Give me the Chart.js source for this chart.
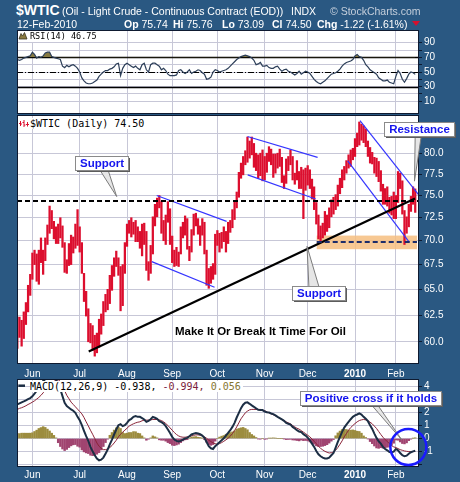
<!DOCTYPE html>
<html>
<head>
<meta charset="utf-8">
<script src="https://cdn.jsdelivr.net/npm/chart.js@4.4.1/dist/chart.umd.min.js"></script>
<style>
  html, body { margin: 0; padding: 0; }
  body { width: 460px; height: 482px; background: #2a5882; position: relative; overflow: hidden;
         font-family: "Liberation Sans", Arial, sans-serif; color: #fff; }
  .t { position: absolute; white-space: nowrap; font-size: 10.5px; line-height: 12px; z-index: 5; }
  .lg { position: absolute; white-space: nowrap; font-family: "DejaVu Sans Mono", "Liberation Mono", monospace;
        font-size: 10px; line-height: 11px; color: #000; background: #fff; padding-right: 2px; z-index: 5; }
  canvas { position: absolute; }
  .tri { position: absolute; left: 412px; top: 21px; width: 0; height: 0; z-index: 5;
         border-left: 4px solid transparent; border-right: 4px solid transparent; border-top: 5px solid #d4102e; }
</style>
</head>
<body>
<div class="t" style="left:16px;top:3px;font-size:14px;line-height:15px;font-weight:bold">$WTIC</div>
<div class="t" style="left:62px;top:4.5px">(Oil - Light Crude - Continuous Contract (EOD))</div>
<div class="t" style="left:291px;top:4.5px">INDX</div>
<div class="t" style="left:330px;top:4.5px;color:#c5cfdc">© StockCharts.com</div>
<div class="t" style="left:17px;top:17.5px">12-Feb-2010</div>
<div class="t" style="left:124px;top:17.5px"><b>Op</b> 75.74</div>
<div class="t" style="left:173px;top:17.5px"><b>Hi</b> 75.76</div>
<div class="t" style="left:222px;top:17.5px"><b>Lo</b> 73.09</div>
<div class="t" style="left:272px;top:17.5px"><b>Cl</b> 74.50</div>
<div class="t" style="left:317px;top:17.5px"><b>Chg</b> -1.22 (-1.61%)</div>
<div class="tri"></div>

<canvas id="rsiChart" width="443" height="84" style="left:17px;top:30px"></canvas>
<canvas id="priceChart" width="443" height="264" style="left:17px;top:115px"></canvas>
<canvas id="macdChart" width="443" height="103" style="left:17px;top:379px"></canvas>

<div class="lg" style="left:30px;top:31px;font-size:8.5px">RSI(14) 46.75</div>
<div class="lg" style="left:30px;top:118px">$WTIC (Daily) 74.50</div>
<div class="lg" style="left:30px;top:380.5px">MACD(12,26,9) -0.938, <span style="color:#7b1d3c">-0.994,</span> <span style="color:#857530">0.056</span></div>

<script>
// ---- sessions: one entry per trading day, 20-May-2009 .. 12-Feb-2010 ----
const monthTicks  = [7, 29, 51, 72, 93, 115, 135, 157, 176];
const monthLabels = ['Jun', 'Jul', 'Aug', 'Sep', 'Oct', 'Nov', 'Dec', '2010', 'Feb'];

const priceTicks = [60, 62.5, 65, 67.5, 70, 72.5, 75, 77.5, 80, 82.5];
const rsiTicks   = [10, 20, 30, 40, 50, 60, 70, 80, 90];
const rsiLabeled = [10, 30, 50, 70, 90];
const macdTicks  = [-2, -1, 0, 1, 2, 3, 4];

// daily high / low
const high = [
  62.3, 62.3, 62.0, 62.8, 63.7, 65.4, 66.5,
  68.7, 69.0, 68.6, 69.0, 70.3, 69.0, 70.3, 71.7, 73.8, 73.3, 72.1, 71.5, 71.8, 72.5, 71.6, 69.8, 68.0, 69.7, 70.6, 70.4, 71.8, 73.4,
  71.5, 69.8, 66.6, 64.8, 63.1, 61.7, 61.5, 60.6, 60.8, 62.1, 62.6, 63.8, 64.5, 65.0, 66.4, 67.4, 68.2, 68.9, 68.2, 67.3, 67.5, 69.8,
  71.8, 72.2, 72.5, 72.0, 72.2, 71.5, 71.0, 71.8, 71.9, 71.0, 67.8, 69.5, 72.6, 74.0, 74.7, 75.0, 74.3, 72.2, 72.8, 74.3, 73.5,
  70.5, 69.0, 69.3, 68.8, 71.5, 72.0, 72.7, 72.4, 69.4, 71.2, 72.9, 73.0, 72.4, 71.6, 72.4, 72.0, 69.0, 67.1, 67.3, 67.6, 70.7,
  71.1, 70.8, 70.9, 71.5, 71.0, 72.0, 72.2, 73.4, 74.3, 75.4, 77.7, 78.8, 79.6, 80.3, 82.0, 81.5, 82.0, 81.2, 80.0, 79.8, 80.0, 80.4,
  79.6, 80.0, 80.8, 80.5, 79.9, 79.9, 80.0, 80.5, 79.5, 77.3, 79.3, 79.6, 80.4, 79.6, 77.6, 79.1, 77.8, 78.3, 78.0, 78.2,
  78.5, 78.0, 76.9, 76.0, 74.2, 72.8, 71.6, 71.9, 73.2, 72.8, 73.6, 74.5, 74.8, 75.1, 76.2, 77.0, 78.0, 78.4, 79.1, 79.8, 80.4, 80.6,
  81.8, 82.5, 83.9, 83.6, 83.4, 83.0, 81.5, 80.7, 80.1, 79.5, 79.4, 79.0, 77.9, 76.3, 75.8, 76.0, 74.8, 74.9, 75.4,
  75.0, 77.8, 77.6, 76.7, 73.3, 72.6, 74.0, 74.9, 76.0, 75.76
];
const low = [
  59.4, 60.4, 59.6, 60.3, 61.6, 62.8, 64.4,
  66.0, 67.5, 65.8, 65.5, 67.7, 66.5, 67.9, 69.6, 70.8, 71.3, 70.2, 69.7, 69.7, 70.3, 69.3, 66.7, 66.6, 67.4, 67.5, 68.7, 69.2, 69.5,
  68.8, 66.6, 63.8, 62.4, 60.0, 59.9, 59.2, 58.7, 59.0, 59.5, 60.7, 61.5, 62.8, 63.0, 63.6, 64.9, 66.3, 67.3, 66.4, 62.9, 63.4, 66.6,
  69.4, 70.8, 70.4, 70.7, 69.9, 69.9, 69.2, 68.4, 69.6, 66.9, 65.9, 66.6, 68.6, 71.6, 72.6, 73.6, 70.8, 70.0, 69.6, 72.0, 69.6,
  67.7, 67.3, 67.4, 67.3, 68.6, 70.3, 70.6, 69.1, 67.9, 68.8, 70.6, 71.6, 70.7, 69.5, 70.6, 68.6, 65.4, 65.1, 65.6, 66.0, 66.5,
  69.5, 68.8, 69.2, 69.9, 68.8, 69.7, 70.9, 71.4, 72.3, 73.6, 74.8, 77.0, 77.4, 78.6, 78.9, 79.4, 79.8, 78.3, 77.9, 77.0, 77.3, 76.7,
  76.8, 77.7, 79.0, 78.6, 77.1, 77.6, 78.2, 78.4, 76.5, 75.8, 76.4, 77.9, 78.6, 76.8, 76.3, 76.8, 75.8, 75.8, 72.4, 75.6,
  76.2, 75.8, 74.6, 73.4, 71.8, 70.2, 69.8, 70.3, 70.6, 71.0, 71.4, 72.6, 72.9, 73.4, 73.8, 75.2, 75.9, 76.8, 77.6, 78.2, 78.4, 79.2,
  79.6, 80.8, 81.0, 81.6, 81.3, 80.8, 79.6, 78.8, 78.7, 77.6, 77.2, 76.6, 75.5, 74.0, 74.0, 73.8, 73.0, 72.8, 72.4,
  72.4, 74.2, 75.8, 72.9, 69.6, 70.8, 71.5, 73.2, 74.0, 73.09
];

// RSI(14)
const rsi = [
  67, 66, 67, 69, 70, 71, 72, 77, 74, 69,   71, 70, 72, 76, 77, 77, 71, 70, 69, 68,
  67, 58, 56, 59, 57, 59, 60, 58, 55, 50,   42, 38, 35, 34, 34, 35, 37, 39, 44, 47,
  50, 52, 52, 54, 55, 57, 61, 62, 45, 55,   60, 62, 60, 58, 56, 58, 55, 53, 60, 62,
  53, 50, 60, 62, 62, 60, 58, 53, 55, 52,   47, 45, 45, 45, 46, 52, 53, 50, 48, 50,
  53, 48, 50, 51, 53, 52, 49, 47, 40, 41,   43, 50, 53, 52, 50, 51, 52, 53, 55, 58,
  61, 64, 67, 69, 71, 72, 73, 72, 71, 69,   66, 60, 61, 63, 58, 58, 59, 56, 55, 55,
  57, 58, 54, 51, 53, 54, 51, 50, 48, 46,   48, 51, 47, 49, 51, 50, 48, 44, 40, 37,
  35, 34, 36, 38, 41, 44, 47, 48, 49, 51,   54, 58, 61, 63, 64, 65, 67, 72, 74, 71,
  70, 66, 60, 57, 53, 51, 49, 47, 42, 40,   38, 38, 39, 36, 35, 34, 44, 52, 48, 40,
  36, 41, 47, 50, 49, 46.75
];

// MACD(12,26,9): MACD line and signal line
const macd = [
  2.61, 2.69, 2.77, 2.84, 2.92, 3.02, 3.10, 3.23, 3.43, 3.66,
  3.92, 4.15, 4.41, 4.55, 4.62, 4.66, 4.66, 4.62, 4.52, 4.18,
  3.77, 3.25, 2.74, 2.48, 2.36, 2.23, 2.13, 1.97, 1.66, 1.41,
  1.02, 0.59, 0.18, -0.18, -0.64, -0.98, -1.28, -1.54, -1.67, -1.62,
  -1.46, -1.16, -0.85, -0.44, -0.08, 0.31, 0.69, 1.02, 1.10, 0.95,
  1.02, 1.20, 1.41, 1.51, 1.66, 1.72, 1.66, 1.66, 1.56, 1.46,
  1.28, 1.36, 1.48, 1.66, 1.59, 1.51, 1.33, 1.25, 1.15, 0.95,
  0.69, 0.43, 0.13, -0.08, -0.18, -0.23, -0.18, -0.08, 0.00, 0.05,
  0.18, 0.31, 0.38, 0.43, 0.38, 0.33, 0.23, 0.05, -0.26, -0.59,
  -0.75, -0.80, -0.59, -0.44, -0.28, -0.13, 0.02, 0.23, 0.43, 0.64,
  0.89, 1.20, 1.61, 1.97, 2.33, 2.59, 2.74, 2.77, 2.66, 2.54,
  2.43, 2.31, 2.20, 2.18, 2.18, 2.07, 2.02, 2.00, 1.92, 1.87,
  1.77, 1.66, 1.56, 1.46, 1.36, 1.20, 1.13, 1.07, 0.89, 0.77,
  0.64, 0.54, 0.49, 0.33, 0.23, 0.07, -0.13, -0.39, -0.64, -0.95,
  -1.21, -1.36, -1.46, -1.52, -1.52, -1.46, -1.28, -1.11, -0.69, -0.26,
  0.13, 0.51, 0.84, 1.07, 1.28, 1.48, 1.66, 1.77, 1.84, 1.92,
  1.84, 1.66, 1.51, 1.33, 1.02, 0.74, 0.38, 0.05, -0.21, -0.39,
  -0.64, -0.80, -0.90, -1.03, -1.05, -1.00, -0.80, -0.90, -1.11, -1.28,
  -1.36, -1.31, -1.16, -1.05, -0.98, -0.938
];
const signal = [
  2.23, 2.31, 2.36, 2.43, 2.51, 2.61, 2.69, 2.79, 2.89, 3.02,
  3.15, 3.31, 3.50, 3.70, 3.90, 4.08, 4.25, 4.38, 4.47, 4.50,
  4.38, 4.05, 3.66, 3.31, 3.05, 2.79, 2.61, 2.43, 2.25, 2.07,
  1.89, 1.61, 1.28, 0.97, 0.64, 0.33, 0.00, -0.34, -0.59, -0.75,
  -0.85, -0.85, -0.80, -0.69, -0.54, -0.34, -0.13, 0.13, 0.33, 0.49,
  0.64, 0.79, 0.95, 1.05, 1.13, 1.20, 1.25, 1.28, 1.36, 1.41,
  1.41, 1.41, 1.43, 1.46, 1.46, 1.46, 1.43, 1.38, 1.28, 1.15,
  1.00, 0.82, 0.64, 0.46, 0.31, 0.20, 0.13, 0.10, 0.10, 0.13,
  0.15, 0.20, 0.25, 0.28, 0.28, 0.25, 0.20, 0.13, 0.02, -0.13,
  -0.23, -0.34, -0.39, -0.44, -0.39, -0.31, -0.21, -0.10, 0.02, 0.18,
  0.38, 0.61, 0.89, 1.20, 1.51, 1.74, 1.97, 2.10, 2.20, 2.23,
  2.23, 2.23, 2.23, 2.23, 2.18, 2.13, 2.05, 1.97, 1.89, 1.82,
  1.74, 1.66, 1.56, 1.46, 1.38, 1.28, 1.20, 1.13, 1.00, 0.89,
  0.79, 0.72, 0.61, 0.49, 0.38, 0.25, 0.13, -0.03, -0.21, -0.39,
  -0.59, -0.75, -0.87, -0.98, -1.05, -1.11, -1.08, -1.03, -0.90, -0.69,
  -0.44, -0.18, 0.13, 0.38, 0.64, 0.84, 1.00, 1.15, 1.28, 1.38,
  1.43, 1.46, 1.43, 1.36, 1.25, 1.13, 0.95, 0.77, 0.54, 0.31,
  0.10, -0.08, -0.23, -0.39, -0.54, -0.64, -0.69, -0.77, -0.85, -0.90,
  -0.95, -0.98, -1.00, -1.00, -1.00, -0.994
];
// histogram = MACD - signal
const histogram = macd.map((m, i) => Math.round((m - signal[i]) * 1000) / 1000);

// ---- chart annotations (session index, price) ----
const supportLevel = 74.38;
const floorLevel = 69.86;
const floorZone = { from: 139.2, to: 185.8, lo: 69.1, hi: 70.55 };
const trendLine = [[33.2, 59.12], [184.9, 74.65]];
const channelLines = [
  [[64.8, 75.0], [97.3, 72.1]],   [[62.5, 67.8], [91.7, 65.2]],
  [[107.0, 82.07], [139.6, 79.5]], [[107.1, 77.4], [138.7, 74.6]],
  [[159.3, 84.08], [186.9, 75.0]], [[153.6, 79.08], [182.2, 69.86]]
];
const priceNotes = [
  { text: 'Support',    at: [39.0, 78.83],  tip: [46.2, 74.88],   side: 'bottom', base: [-1, 7] },
  { text: 'Resistance', at: [186.6, 82.95], tip: [184.65, 76.66], side: 'bottom', base: [-3.5, 2.5] },
  { text: 'Support',    at: [140.2, 64.6],  tip: [134.7, 69.4],   side: 'top',    base: [-10, 0] }
];
const headline = { text: 'Make It Or Break It Time For Oil', at: [113.05, 60.92] };
const macdNote = { text: 'Positive cross if it holds', at: [164.2, 3.1], tip: [178.8, -0.11], side: 'bottom', base: [1.5, 7.5] };
const macdRing = { at: [181.8, -0.65], r: 18 };

// ---- shared styling ----
const FONT = '"Liberation Sans", Arial, sans-serif';
const GRID = '#c7c7d7';
const FRAME = '#0e1a30';
const X_MIN = -0.15, X_MAX = 186.75;

function noPad(s) { s.paddingTop = 0; s.paddingBottom = 0; s.paddingLeft = 0; s.paddingRight = 0; }

function xAxis(showLabels, labelGap) {
  return {
    type: 'linear', min: X_MIN, max: X_MAX, offset: false,
    afterBuildTicks(s) { s.ticks = monthTicks.map(v => ({ value: v })); },
    afterFit(s) { s.height = showLabels ? 15 : 0; noPad(s); },
    grid: { color: GRID, drawTicks: false, offset: false },
    border: { display: false },
    ticks: {
      display: showLabels, autoSkip: false, maxRotation: 0, minRotation: 0, padding: labelGap || 3, color: '#fff',
      font: c => ({ family: FONT, size: 10, weight: (c.tick && c.tick.value === 157) ? 'bold' : 'normal' }),
      callback: v => { const k = monthTicks.indexOf(v); return k < 0 ? '' : monthLabels[k]; }
    }
  };
}
function yAxis(extra, ticksList, fmt) {
  return Object.assign({
    position: 'right',
    afterBuildTicks(s) { s.ticks = ticksList.map(v => ({ value: v })); },
    afterFit(s) { s.width = 41; noPad(s); },
    grid: { color: GRID, tickLength: 3, tickColor: FRAME },
    border: { display: false },
    ticks: { color: '#fff', padding: 2, autoSkip: false, font: { family: FONT, size: 10 }, callback: fmt }
  }, extra);
}
const baseOptions = {
  responsive: false, animation: false, devicePixelRatio: 1, events: [],
  layout: { padding: 0, autoPadding: false },
  plugins: { legend: { display: false }, tooltip: { enabled: false } }
};

const panelBg = {
  id: 'panelBg',
  beforeDraw(c) { const a = c.chartArea, g = c.ctx; g.save(); g.fillStyle = '#fff'; g.fillRect(a.left, a.top, a.width, a.height); g.restore(); }
};
function frame(c) {
  const a = c.chartArea, g = c.ctx;
  g.save(); g.strokeStyle = FRAME; g.lineWidth = 1;
  g.strokeRect(a.left + 0.5, a.top + 0.5, a.width - 1, a.height - 1); g.restore();
}
function pt(c, p) { return [c.scales.x.getPixelForValue(p[0]), c.scales.y.getPixelForValue(p[1])]; }
function segment(g, c, a, b) {
  const p = pt(c, a), q = pt(c, b);
  g.beginPath(); g.moveTo(p[0], p[1]); g.lineTo(q[0], q[1]); g.stroke();
}
function callout(g, c, note) {
  const [cx, cy] = pt(c, note.at);
  const [tx, ty] = pt(c, note.tip);
  g.save();
  g.font = 'bold 11.5px ' + FONT;
  const w = Math.round(g.measureText(note.text).width + 9), h = 14;
  const L = Math.round(cx - w / 2) + 0.5, T = Math.round(cy - h / 2) + 0.5;
  const by = note.side === 'bottom' ? T + h : T;
  g.beginPath();
  g.moveTo(cx + note.base[0], by); g.lineTo(tx, ty); g.lineTo(cx + note.base[1], by); g.closePath();
  g.fillStyle = '#e6e6e6'; g.fill();
  g.strokeStyle = '#7c7c7c'; g.lineWidth = 1; g.stroke();
  g.fillStyle = '#5c5c5c'; g.fillRect(L + 1.5, T + 1.5, w, h);
  g.fillStyle = '#fff'; g.fillRect(L, T, w, h);
  g.strokeStyle = '#8a8a8a'; g.strokeRect(L, T, w, h);
  g.fillStyle = '#1414ee'; g.textAlign = 'center'; g.textBaseline = 'middle';
  g.fillText(note.text, L + w / 2, T + h / 2 + 0.5);
  g.restore();
}

// ---- RSI panel ----
new Chart(document.getElementById('rsiChart'), {
  type: 'line',
  data: { datasets: [{
    data: rsi.map((v, i) => ({ x: i, y: v })),
    borderColor: '#2c3e58', borderWidth: 1.2, pointRadius: 0, tension: 0,
    fill: { target: { value: 70 }, above: '#877a42', below: 'rgba(0,0,0,0)' }
  }] },
  options: Object.assign({}, baseOptions, {
    scales: {
      x: xAxis(false),
      y: yAxis({ type: 'linear', min: -7.3, max: 107.3 }, rsiTicks, v => rsiLabeled.includes(v) ? String(v) : '')
    }
  }),
  plugins: [panelBg, {
    id: 'rsiLevels',
    beforeDatasetsDraw(c) {
      const g = c.ctx, a = c.chartArea, y = c.scales.y;
      g.save(); g.strokeStyle = '#000';
      g.lineWidth = 1.4;
      [70, 30].forEach(v => { const yy = Math.round(y.getPixelForValue(v)) + 0.5; g.beginPath(); g.moveTo(a.left, yy); g.lineTo(a.right, yy); g.stroke(); });
      g.lineWidth = 1; g.setLineDash([6, 2, 1, 2]);
      const y5 = Math.round(y.getPixelForValue(50)) + 0.5;
      g.beginPath(); g.moveTo(a.left, y5); g.lineTo(a.right, y5); g.stroke();
      g.restore();
    },
    afterDatasetsDraw(c) {
      frame(c);
      const g = c.ctx;
      g.save();
      g.beginPath(); g.moveTo(2, 9); g.lineTo(4, 3.5); g.lineTo(5.5, 6); g.lineTo(7.5, 2.5); g.lineTo(10, 9); g.closePath();
      g.fillStyle = '#8a7a40'; g.fill(); g.strokeStyle = '#3a3522'; g.lineWidth = 0.8; g.stroke();
      g.restore();
    }
  }]
});

// ---- price panel ----
new Chart(document.getElementById('priceChart'), {
  type: 'bar',
  data: { datasets: [{
    data: high.map((h, i) => ({ x: i, y: [low[i], h] })),
    backgroundColor: '#dc0e2e', borderWidth: 0, barThickness: 1.6
  }] },
  options: Object.assign({}, baseOptions, {
    scales: {
      x: xAxis(true, 4),
      y: yAxis({ type: 'logarithmic', min: 58.0, max: 84.8 }, priceTicks, v => Number(v).toFixed(1))
    }
  }),
  plugins: [panelBg, {
    id: 'priceMarks',
    beforeDatasetsDraw(c) {
      const g = c.ctx, a = c.chartArea;
      const p = pt(c, [floorZone.from, floorZone.hi]), q = pt(c, [floorZone.to, floorZone.lo]);
      g.save();
      g.beginPath(); g.rect(a.left, a.top, a.width, a.height); g.clip();
      g.fillStyle = 'rgba(246,190,128,0.85)';
      g.fillRect(p[0], p[1], q[0] - p[0], q[1] - p[1]);
      g.restore();
    },
    afterDatasetsDraw(c) {
      const g = c.ctx, a = c.chartArea;
      g.save();
      g.beginPath(); g.rect(a.left, a.top, a.width, a.height); g.clip();
      g.strokeStyle = '#3535ff'; g.lineWidth = 1.2;
      channelLines.forEach(l => segment(g, c, l[0], l[1]));
      g.strokeStyle = '#000'; g.lineWidth = 2.2;
      segment(g, c, trendLine[0], trendLine[1]);
      g.lineWidth = 2; g.setLineDash([5, 3]);
      segment(g, c, [X_MIN, supportLevel], [X_MAX, supportLevel]);
      g.strokeStyle = '#1c2c6a';
      segment(g, c, [floorZone.from, floorLevel], [floorZone.to, floorLevel]);
      g.setLineDash([]);
      const [hx, hy] = pt(c, headline.at);
      g.fillStyle = '#000'; g.font = 'bold 11.5px ' + FONT; g.textAlign = 'center'; g.textBaseline = 'middle';
      g.fillText(headline.text, hx, hy);
      g.restore();
      frame(c);
    },
    afterDraw(c) {
      const g = c.ctx;
      priceNotes.forEach(n => callout(g, c, n));
      g.save(); g.strokeStyle = '#dc0e2e'; g.lineWidth = 1;
      [[3, 6, 11], [6.5, 5, 12], [10, 7, 11.5]].forEach(([x, t, b]) => {
        g.beginPath(); g.moveTo(x + 0.5, t); g.lineTo(x + 0.5, b);
        g.moveTo(x - 1, t + 2.5); g.lineTo(x + 0.5, t + 2.5);
        g.moveTo(x + 0.5, b - 2); g.lineTo(x + 2, b - 2); g.stroke();
      });
      g.restore();
    }
  }]
});

// ---- MACD panel ----
new Chart(document.getElementById('macdChart'), {
  type: 'bar',
  data: { datasets: [
    { type: 'bar', order: 3, data: histogram.map((v, i) => ({ x: i, y: v })),
      backgroundColor: histogram.map(v => v >= 0 ? '#9c8c3e' : '#a04470'), borderWidth: 0, barThickness: 1.8 },
    { type: 'line', order: 2, data: signal.map((v, i) => ({ x: i, y: v })),
      borderColor: '#8a2438', borderWidth: 1, pointRadius: 0, tension: 0 },
    { type: 'line', order: 1, data: macd.map((v, i) => ({ x: i, y: v })),
      borderColor: '#1c2e44', borderWidth: 2, pointRadius: 0, tension: 0 }
  ] },
  options: Object.assign({}, baseOptions, {
    scales: {
      x: xAxis(true, 2),
      y: yAxis({ type: 'linear', min: -2.18, max: 4.56 }, macdTicks, v => v === -2 ? '' : String(v))
    }
  }),
  plugins: [panelBg, {
    id: 'macdMarks',
    afterDatasetsDraw(c) {
      frame(c);
      const g = c.ctx;
      g.save(); g.strokeStyle = '#1c2e44'; g.lineWidth = 2.5;
      g.beginPath(); g.moveTo(1.3, 6.7); g.lineTo(8, 6.7); g.stroke(); g.restore();
    },
    afterDraw(c) {
      const g = c.ctx;
      callout(g, c, macdNote);
      const [rx, ry] = pt(c, macdRing.at);
      g.save(); g.strokeStyle = '#1a1aff'; g.lineWidth = 2.5;
      g.beginPath(); g.arc(rx, ry, macdRing.r, 0, Math.PI * 2); g.stroke(); g.restore();
    }
  }]
});
</script>
</body>
</html>
